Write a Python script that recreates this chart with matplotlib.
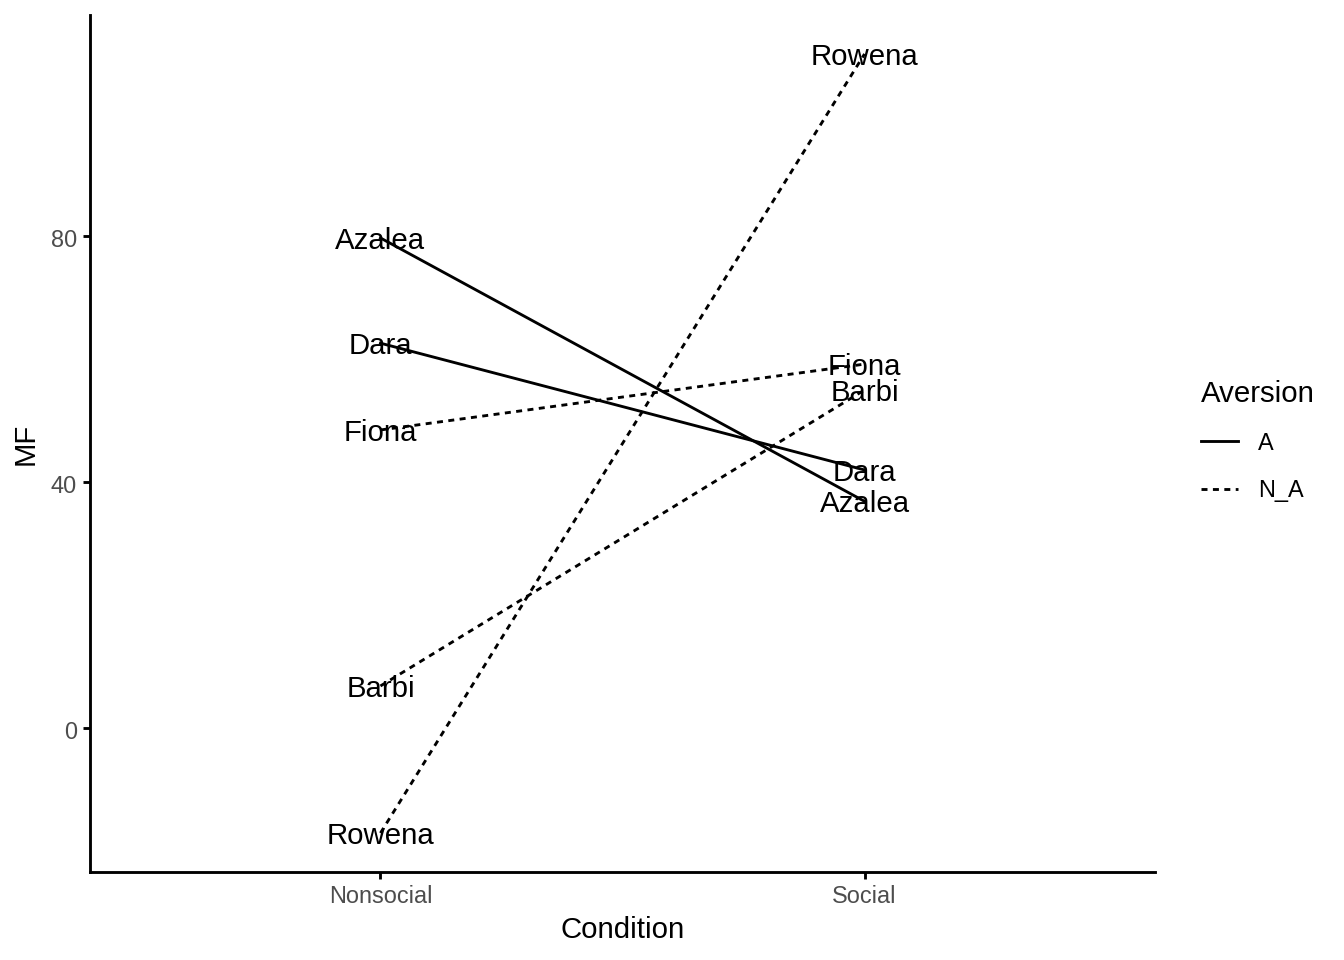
import matplotlib
matplotlib.use("Agg")
import matplotlib.pyplot as plt
import matplotlib.transforms as mtransforms
from matplotlib.lines import Line2D

plt.rcParams['font.family'] = ['Liberation Sans', 'DejaVu Sans']

# data
subjects = ['Azalea', 'Dara', 'Fiona', 'Barbi', 'Rowena']
aversion = ['A', 'A', 'N_A', 'N_A', 'N_A']
nonsocial = [79.7, 62.6, 48.5, 6.9, -17.0]
social = [36.9, 42.0, 59.2, 55.0, 109.6]
conditions = ['Nonsocial', 'Social']
y_ticks = [0, 40, 80]

lw = 1.07
styles = {'A': dict(linestyle='-'), 'N_A': dict(linestyle=(0, (2.1, 1.9)))}

fig = plt.figure(figsize=(7, 5), dpi=192)
ax = fig.add_axes([90 / 1344, 88 / 960, (1155 - 90) / 1344, (872 - 15) / 960])

# R centres text a touch lower than matplotlib does
text_tr = ax.transData + mtransforms.ScaledTranslation(0, -3.0 / 192, fig.dpi_scale_trans)

xpos = [1, 2]
for name, grp, a, b in zip(subjects, aversion, nonsocial, social):
    ax.plot(xpos, [a, b], color='black', linewidth=lw, **styles[grp])
    ax.text(xpos[0], a, name, ha='center', va='center', fontsize=11, transform=text_tr)
    ax.text(xpos[1], b, name, ha='center', va='center', fontsize=11, transform=text_tr)

allv = nonsocial + social
lo, hi = min(allv), max(allv)
pad = 0.05 * (hi - lo)
ax.set_ylim(lo - pad, hi + pad)
ax.set_xlim(0.4, 2.6)

ax.set_xticks(xpos)
ax.set_xticklabels(conditions)
ax.set_yticks(y_ticks)
ax.tick_params(labelsize=8.8, labelcolor='#4D4D4D', length=2.75, width=lw,
               color='black', pad=2.2)
shift = mtransforms.ScaledTranslation(0, -1.5 / 192, fig.dpi_scale_trans)
for lab in ax.get_yticklabels():
    lab.set_transform(lab.get_transform() + shift)
for s in ['top', 'right']:
    ax.spines[s].set_visible(False)
for s in ['left', 'bottom']:
    ax.spines[s].set_linewidth(lw)

ax.set_xlabel('Condition', fontsize=11, labelpad=3)
ax.set_ylabel('MF', fontsize=11, labelpad=4)

handles = [Line2D([], [], color='black', linewidth=lw, **styles[k]) for k in ['A', 'N_A']]
leg = fig.legend(handles, ['A', 'N_A'], title='Aversion', loc='center left',
                 bbox_to_anchor=(1180 / 1344, 1 - 441 / 960), frameon=False,
                 fontsize=8.8, title_fontsize=11, handlelength=1.57,
                 handletextpad=0.85, labelspacing=1.05)
leg._legend_box.align = 'left'
leg._legend_box.sep = 9

fig.savefig('out.png', dpi=192)
